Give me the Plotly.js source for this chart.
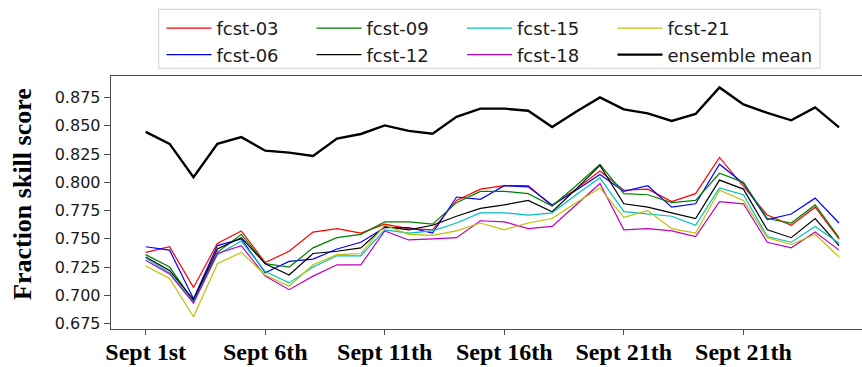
<!DOCTYPE html>
<html>
<head>
<meta charset="utf-8">
<script src="https://cdn.plot.ly/plotly-3.0.1.min.js"></script>
<style>
  html, body { margin: 0; padding: 0; background: #ffffff; }
  #chart { width: 862px; height: 367px; }
</style>
</head>
<body>
<div id="chart"></div>
<script>
// Day of September for each verification
const days = [1, 2, 3, 4, 5, 6, 7, 8, 9, 10, 11, 12, 13, 14, 15,
              16, 17, 18, 19, 20, 21, 22, 23, 24, 25, 26, 27, 28, 29, 30];

const tickDays = [1, 6, 11, 16, 21, 26];
const tickLabels = ["Sept 1st", "Sept 6th", "Sept 11th", "Sept 16th", "Sept 21th", "Sept 21th"];
const yTicks = [0.675, 0.700, 0.725, 0.750, 0.775, 0.800, 0.825, 0.850, 0.875];

// Fraction skill score per forecast lead
const fcst03 = [0.738, 0.743, 0.707, 0.746, 0.757, 0.729, 0.739, 0.756, 0.759, 0.755,
                0.763, 0.759, 0.758, 0.784, 0.794, 0.797, 0.797, 0.779, 0.794, 0.810,
                0.793, 0.794, 0.783, 0.790, 0.822, 0.797, 0.771, 0.762, 0.778, 0.750];
const fcst06 = [0.743, 0.740, 0.697, 0.744, 0.750, 0.720, 0.730, 0.732, 0.741, 0.747,
                0.760, 0.760, 0.755, 0.787, 0.785, 0.797, 0.796, 0.780, 0.793, 0.807,
                0.792, 0.797, 0.778, 0.781, 0.816, 0.799, 0.767, 0.772, 0.786, 0.764];
const fcst09 = [0.736, 0.725, 0.695, 0.738, 0.754, 0.728, 0.725, 0.742, 0.751, 0.754,
                0.765, 0.765, 0.763, 0.782, 0.792, 0.792, 0.790, 0.779, 0.797, 0.816,
                0.790, 0.789, 0.782, 0.784, 0.808, 0.800, 0.768, 0.764, 0.780, 0.751];
const fcst12 = [0.734, 0.722, 0.696, 0.741, 0.751, 0.728, 0.718, 0.737, 0.739, 0.742,
                0.761, 0.758, 0.762, 0.770, 0.777, 0.780, 0.784, 0.774, 0.794, 0.815,
                0.781, 0.778, 0.773, 0.768, 0.802, 0.794, 0.758, 0.751, 0.768, 0.744];
const fcst15 = [0.733, 0.720, 0.694, 0.736, 0.748, 0.721, 0.711, 0.725, 0.735, 0.735,
                0.758, 0.755, 0.757, 0.764, 0.773, 0.773, 0.771, 0.773, 0.789, 0.804,
                0.774, 0.772, 0.770, 0.762, 0.795, 0.789, 0.752, 0.747, 0.761, 0.746];
const fcst18 = [0.731, 0.719, 0.693, 0.737, 0.744, 0.717, 0.705, 0.717, 0.727, 0.727,
                0.757, 0.749, 0.750, 0.751, 0.766, 0.765, 0.759, 0.761, 0.780, 0.799,
                0.758, 0.759, 0.757, 0.752, 0.783, 0.781, 0.747, 0.742, 0.756, 0.740];
const fcst21 = [0.726, 0.715, 0.681, 0.728, 0.738, 0.718, 0.708, 0.727, 0.736, 0.737,
                0.762, 0.754, 0.753, 0.757, 0.764, 0.758, 0.764, 0.768, 0.782, 0.795,
                0.769, 0.775, 0.759, 0.755, 0.793, 0.784, 0.751, 0.745, 0.754, 0.734];
const ensembleMean = [0.8446, 0.834, 0.8045, 0.834, 0.840, 0.828, 0.8263, 0.8234, 0.8387, 0.8428,
                      0.8504, 0.8455, 0.843, 0.858, 0.8652, 0.8652, 0.8634, 0.849, 0.8625, 0.8752,
                      0.8646, 0.861, 0.8543, 0.8605, 0.884, 0.869, 0.8614, 0.8549, 0.8663, 0.8487];

// name, values, colour, line width, legend column
const series = [
  ["fcst-03", fcst03, "#ff0000", 1.2, "legend"],
  ["fcst-06", fcst06, "#0000ff", 1.2, "legend"],
  ["fcst-09", fcst09, "#008000", 1.2, "legend2"],
  ["fcst-12", fcst12, "#000000", 1.2, "legend2"],
  ["fcst-15", fcst15, "#00bfbf", 1.2, "legend3"],
  ["fcst-18", fcst18, "#bf00bf", 1.2, "legend3"],
  ["fcst-21", fcst21, "#bfbf00", 1.2, "legend4"],
  ["ensemble mean", ensembleMean, "#000000", 2.4, "legend4"]
];

const traces = series.map(([name, vals, color, width, leg]) => ({
  type: "scatter",
  mode: "lines",
  name: name,
  x: days,
  y: vals,
  line: { color: color, width: width },
  legend: leg
}));

const axisColor = "#4d4d4d";

// one vertical legend per column of the legend panel
function legendColumn(x) {
  return {
    orientation: "v",
    x: x, xanchor: "left",
    y: 1.2609, yanchor: "top",
    bgcolor: "rgba(0,0,0,0)",
    borderwidth: 0,
    itemwidth: 45,
    tracegroupgap: 0,
    font: { family: "DejaVu Sans", size: 18, color: "#1a1a1a" }
  };
}

const layout = {
  width: 862,
  height: 367,
  margin: { l: 111, r: 0, t: 76, b: 38, autoexpand: false },
  paper_bgcolor: "#ffffff",
  plot_bgcolor: "#ffffff",
  showlegend: true,
  legend: legendColumn(0.0672),
  legend2: legendColumn(0.2670),
  legend3: legendColumn(0.4674),
  legend4: legendColumn(0.6678),
  shapes: [{
    type: "rect",
    xref: "paper", yref: "paper",
    x0: 0.0635, x1: 0.9441,
    y0: 1.0304, y1: 1.2636,
    line: { color: "#d0d0d0", width: 1 },
    fillcolor: "#ffffff",
    layer: "above"
  }],
  xaxis: {
    range: [-0.45, 30.96],
    tickmode: "array",
    tickvals: tickDays,
    ticktext: tickLabels,
    showgrid: false,
    zeroline: false,
    showline: true,
    mirror: true,
    linecolor: axisColor,
    linewidth: 1.3,
    ticks: "outside",
    ticklen: 5,
    tickwidth: 1,
    tickcolor: axisColor,
    ticklabelstandoff: -4,
    tickfont: { family: "Liberation Serif", size: 24, weight: "bold", color: "#000000" }
  },
  yaxis: {
    range: [0.6702, 0.8941],
    tickmode: "array",
    tickvals: yTicks,
    tickformat: ".3f",
    showgrid: false,
    zeroline: false,
    showline: true,
    linecolor: axisColor,
    linewidth: 1.3,
    ticks: "outside",
    ticklen: 6,
    tickwidth: 1,
    tickcolor: axisColor,
    tickfont: { family: "DejaVu Sans", size: 16, color: "#1a1a1a" }
  },
  annotations: [{
    text: "Fraction skill score",
    xref: "paper", yref: "paper",
    x: -0.1172, y: 0.5336,
    xanchor: "center", yanchor: "middle",
    textangle: -90,
    showarrow: false,
    font: { family: "Liberation Serif", size: 26, weight: "bold", color: "#000000" }
  }]
};

Plotly.newPlot("chart", traces, layout, { displayModeBar: false, staticPlot: true });
</script>
</body>
</html>
